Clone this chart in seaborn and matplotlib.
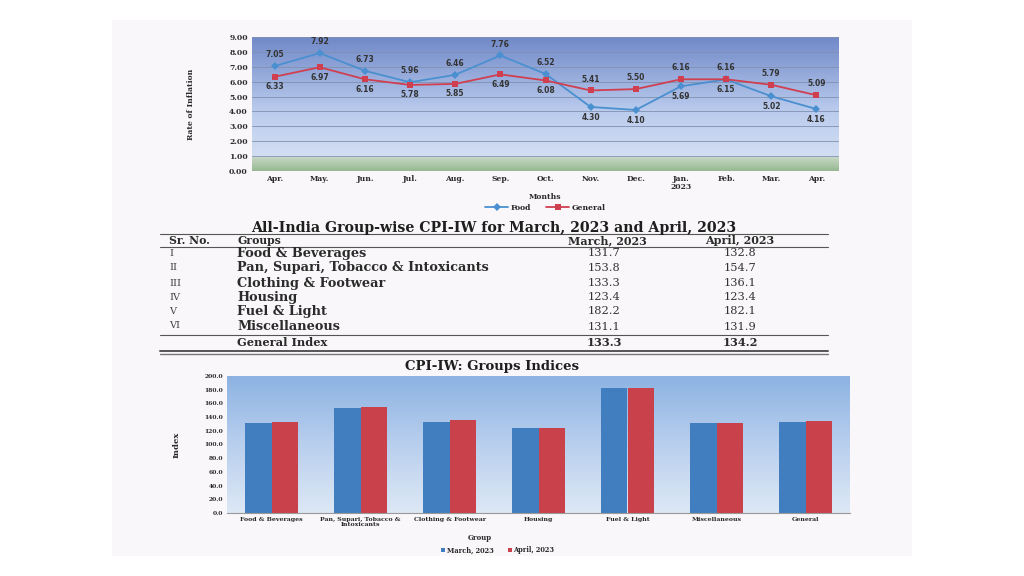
import numpy as np
import pandas as pd
import matplotlib
matplotlib.use("Agg")
import matplotlib.pyplot as plt
import seaborn as sns
from matplotlib.colors import LinearSegmentedColormap
from matplotlib.patches import Rectangle

# ---- data ----
months = ["Apr.", "May.", "Jun.", "Jul.", "Aug.", "Sep.", "Oct.", "Nov.", "Dec.",
          "Jan.\n2023", "Feb.", "Mar.", "Apr."]
food = [7.05, 7.92, 6.73, 5.96, 6.46, 7.76, 6.52, 4.30, 4.10, 5.69, 6.15, 5.02, 4.16]
general = [6.33, 6.97, 6.16, 5.78, 5.85, 6.49, 6.08, 5.41, 5.50, 6.16, 6.16, 5.79, 5.09]

sr_no = ["I", "II", "III", "IV", "V", "VI"]
groups = ["Food & Beverages", "Pan, Supari, Tobacco & Intoxicants", "Clothing & Footwear",
          "Housing", "Fuel & Light", "Miscellaneous"]
march = [131.7, 153.8, 133.3, 123.4, 182.2, 131.1]
april = [132.8, 154.7, 136.1, 123.4, 182.1, 131.9]
general_index = [133.3, 134.2]

bar_labels = ["Food & Beverages", "Pan, Supari, Tobacco &\nIntoxicants", "Clothing & Footwear",
              "Housing", "Fuel & Light", "Miscellaneous", "General"]

W, H = 1024, 576


def rect(x0, y0, x1, y1):
    return [x0 / W, 1 - y1 / H, (x1 - x0) / W, (y1 - y0) / H]


sns.set_style("white")
plt.rcParams['font.family'] = ['DejaVu Serif']
serif = 'DejaVu Serif'
ink = '#2b2b2b'

fig = plt.figure(figsize=(W / 100, H / 100), dpi=100)
fig.patch.set_facecolor('white')

# overlay in pixel coords: page + table
ov = fig.add_axes([0, 0, 1, 1])
ov.set_zorder(-1)
ov.set_xlim(0, W)
ov.set_ylim(H, 0)
ov.axis('off')
ov.add_patch(Rectangle((112, 20), 800, 536, facecolor='#f9f7f9', edgecolor='none'))

# ---- line chart ----
ax1 = fig.add_axes(rect(252, 37, 839, 171))
bg1 = LinearSegmentedColormap.from_list('bg1', [(0, '#97b992'), (0.1, '#c6d6c3'),
                                                (0.106, '#d2def2'), (0.45, '#bacbed'),
                                                (1, '#7089c8')])
ax1.imshow(np.linspace(0, 1, 256).reshape(-1, 1), origin='lower', cmap=bg1,
           extent=[-0.5, len(months) - 0.5, 0, 9], aspect='auto', zorder=0)
for yv in range(1, 10):
    ax1.axhline(yv, color='#8090b0', lw=0.6, zorder=1)

df = pd.DataFrame({
    'pos': list(range(len(months))) * 2,
    'rate': food + general,
    'series': ['Food'] * len(months) + ['General'] * len(months),
})
sns.lineplot(data=df, x='pos', y='rate', hue='series', style='series',
             markers={'Food': 'D', 'General': 's'}, dashes=False,
             palette={'Food': '#4a90d0', 'General': '#d03f50'},
             markersize=4.5, markeredgewidth=0, lw=1.3, ax=ax1, zorder=3)

for i in range(len(months)):
    hi, lo = (food[i], general[i]) if food[i] >= general[i] else (general[i], food[i])
    ax1.annotate(f"{hi:.2f}", (i, hi), xytext=(0, 5), textcoords='offset points',
                 ha='center', va='bottom', fontsize=5.5, fontweight='bold',
                 family='DejaVu Sans', color='#333333', zorder=4)
    ax1.annotate(f"{lo:.2f}", (i, lo), xytext=(0, -4), textcoords='offset points',
                 ha='center', va='top', fontsize=5.5, fontweight='bold',
                 family='DejaVu Sans', color='#333333', zorder=4)

ax1.set_xlim(-0.5, len(months) - 0.5)
ax1.set_ylim(0, 9)
ax1.set_xticks(range(len(months)))
ax1.set_xticklabels(months, fontsize=5.5, fontweight='bold', color=ink, linespacing=0.9)
ax1.set_yticks(range(0, 10))
ax1.set_yticklabels([f"{v:.2f}" for v in range(0, 10)], fontsize=5.5, fontweight='bold', color=ink)
ax1.tick_params(length=0, pad=3)
ax1.set_xlabel("Months", fontsize=5.5, fontweight='bold', color=ink)
ax1.xaxis.set_label_coords(0.5, -0.165)
ax1.set_ylabel("Rate of Inflation", fontsize=5.5, fontweight='bold', color=ink)
ax1.yaxis.set_label_coords(-0.097, 0.5)
for s in ax1.spines.values():
    s.set_visible(False)
h, l = ax1.get_legend_handles_labels()
ax1.legend(h, l, loc='upper center', bbox_to_anchor=(0.5, -0.215), ncol=2, frameon=False,
           prop={'family': serif, 'weight': 'bold', 'size': 5.5}, handlelength=3,
           columnspacing=2, handletextpad=0.3, borderpad=0)

# ---- table ----
ov.text(494, 228, "All-India Group-wise CPI-IW for March, 2023 and April, 2023",
        ha='center', va='center', fontsize=10.2, fontweight='bold', color='#1e1e1e')
ov.plot([160, 828], [234, 234], color='#555555', lw=0.8)
ov.plot([160, 828], [247, 247], color='#555555', lw=0.8)
ov.plot([160, 828], [335, 335], color='#555555', lw=0.8)
ov.plot([160, 828], [351, 351], color='#555555', lw=1.4)
ov.plot([160, 828], [353.5, 353.5], color='#777777', lw=1.0)

ov.text(169, 240.5, "Sr. No.", ha='left', va='center', fontsize=7.8, fontweight='bold', color=ink)
ov.text(237, 240.5, "Groups", ha='left', va='center', fontsize=7.8, fontweight='bold', color=ink)
ov.text(607, 240.5, "March, 2023", ha='center', va='center', fontsize=8, fontweight='bold', color=ink)
ov.text(740, 241, "April, 2023", ha='center', va='center', fontsize=8, fontweight='bold', color=ink)
row_y = [253, 268, 283, 297, 311, 326]
for k in range(len(groups)):
    ov.text(169, row_y[k], sr_no[k], ha='left', va='center', fontsize=7, color='#444444')
    ov.text(237, row_y[k], groups[k], ha='left', va='center', fontsize=9.3,
            fontweight='bold', color=ink)
    ov.text(604, row_y[k] + (1.5 if k == 5 else 0), f"{march[k]:.1f}", ha='center',
            va='center', fontsize=8.2, color='#333333')
    ov.text(740, row_y[k] + (1.5 if k == 5 else 0), f"{april[k]:.1f}", ha='center',
            va='center', fontsize=8.2, color='#333333')
ov.text(237, 343, "General Index", ha='left', va='center', fontsize=8.2, fontweight='bold', color=ink)
ov.text(604, 343, f"{general_index[0]:.1f}", ha='center', va='center', fontsize=8.2,
        fontweight='bold', color=ink)
ov.text(740, 343, f"{general_index[1]:.1f}", ha='center', va='center', fontsize=8.2,
        fontweight='bold', color=ink)

# ---- bar chart ----
ax2 = fig.add_axes(rect(227, 376, 850, 513))
bg2 = LinearSegmentedColormap.from_list('bg2', ['#dde8f5', '#b9cfee', '#8db3e2'])
ax2.imshow(np.linspace(0, 1, 256).reshape(-1, 1), origin='lower', cmap=bg2,
           extent=[-0.5, len(bar_labels) - 0.5, 0, 200], aspect='auto', zorder=0)

bars = pd.DataFrame({
    'group': bar_labels * 2,
    'index': march + [general_index[0]] + april + [general_index[1]],
    'month': ['March, 2023'] * len(bar_labels) + ['April, 2023'] * len(bar_labels),
})
sns.barplot(data=bars, x='group', y='index', hue='month',
            palette={'March, 2023': '#417ebf', 'April, 2023': '#c8414b'},
            width=0.6, gap=0, saturation=1, linewidth=0, ax=ax2, zorder=2)
ax2.set_xlim(-0.5, len(bar_labels) - 0.5)
ax2.set_ylim(0, 200)
ax2.set_yticks(range(0, 201, 20))
ax2.set_yticklabels([f"{v:.1f}" for v in range(0, 201, 20)], fontsize=4.3, fontweight='bold', color=ink)
ax2.set_xticks(range(len(bar_labels)))
ax2.set_xticklabels(bar_labels, fontsize=4.5, fontweight='bold', color=ink, linespacing=0.9)
ax2.tick_params(length=0, pad=3)
ax2.set_xlabel("Group", fontsize=5, fontweight='bold', color=ink)
ax2.xaxis.set_label_coords(0.405, -0.15)
ax2.set_ylabel("Index", fontsize=6, fontweight='bold', color=ink)
ax2.yaxis.set_label_coords(-0.074, 0.5)
for s in ax2.spines.values():
    s.set_visible(False)
ax2.spines['bottom'].set_visible(True)
ax2.spines['bottom'].set_color('#9a9a9a')
ax2.spines['bottom'].set_linewidth(0.8)
h, l = ax2.get_legend_handles_labels()
ax2.legend(h, l, loc='upper center', bbox_to_anchor=(0.435, -0.22), ncol=2, frameon=False,
           prop={'family': serif, 'weight': 'bold', 'size': 4.8}, handlelength=0.6,
           handleheight=0.6, columnspacing=2, handletextpad=0.3, borderpad=0)
ax2.text(0.425, 1.025, "CPI-IW: Groups Indices", transform=ax2.transAxes, ha='center',
         va='bottom', fontsize=9.5, fontweight='bold', color='#1e1e1e')

fig.savefig("out.png", dpi=100)
